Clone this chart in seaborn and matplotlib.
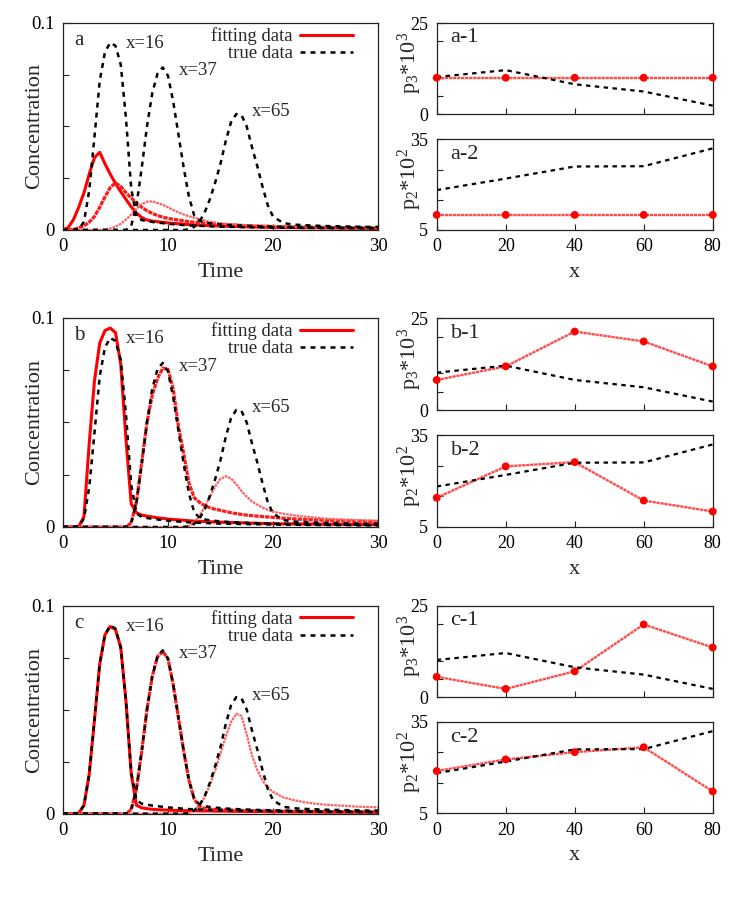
import matplotlib
matplotlib.use("Agg")
import numpy as np
import matplotlib.pyplot as plt
import seaborn as sns
from matplotlib.lines import Line2D

# ---- data ----
time = np.array([0, 0.5, 1, 1.5, 2, 2.5, 3, 3.5, 4, 4.5,
                 5, 5.5, 6, 6.5, 7, 7.5, 8, 8.5, 9, 9.5,
                 10, 10.5, 11, 11.5, 12, 12.5, 13, 13.5, 14, 14.5,
                 15, 15.5, 16, 16.5, 17, 17.5, 18, 18.5, 19, 19.5,
                 20, 21, 22, 23, 24, 25, 26, 27, 28, 29, 30])

# true concentration curves (same in all three rows)
true_16 = [0, 0, 0, 0.0003, 0.004, 0.019, 0.045, 0.072, 0.086, 0.0905,
           0.089, 0.080, 0.054, 0.020, 0.0065, 0.0048, 0.0043, 0.0039, 0.0036, 0.0033,
           0.003, 0.0028, 0.0026, 0.0024, 0.0022, 0.0021, 0.002, 0.0019, 0.0018, 0.0017,
           0.0016, 0.0016, 0.0015, 0.0015, 0.0014, 0.0014, 0.0013, 0.0013, 0.0013, 0.0012,
           0.0012, 0.0011, 0.0011, 0.001, 0.001, 0.0009, 0.0009, 0.0009, 0.0008, 0.0008, 0.0008]
true_37 = [0, 0, 0, 0, 0, 0, 0, 0, 0, 0,
           0, 0, 0, 0.002, 0.012, 0.030, 0.050, 0.066, 0.0755, 0.0785,
           0.0745, 0.062, 0.046, 0.030, 0.016, 0.007, 0.0045, 0.0036, 0.0032, 0.0029,
           0.0027, 0.0025, 0.0023, 0.0022, 0.0021, 0.002, 0.0019, 0.0018, 0.0017, 0.0017,
           0.0016, 0.0015, 0.0014, 0.0013, 0.0013, 0.0012, 0.0012, 0.0011, 0.0011, 0.001, 0.001]
true_65 = [0, 0, 0, 0, 0, 0, 0, 0, 0, 0,
           0, 0, 0, 0, 0, 0, 0, 0, 0, 0,
           0, 0, 0, 0, 0.0003, 0.0015, 0.004, 0.0085, 0.015, 0.023,
           0.032, 0.043, 0.052, 0.056, 0.0555, 0.050, 0.040, 0.031, 0.021, 0.012,
           0.0065, 0.0033, 0.0026, 0.0023, 0.0021, 0.0019, 0.0018, 0.0017, 0.0016, 0.0015, 0.0015]

# fitted curves, row a
fit_a_16 = [0, 0.0012, 0.005, 0.011, 0.018, 0.027, 0.035, 0.0375, 0.032, 0.027,
            0.0225, 0.0185, 0.0148, 0.0112, 0.0082, 0.006, 0.0048, 0.0043, 0.004, 0.0037,
            0.0034, 0.0032, 0.003, 0.0028, 0.0026, 0.0024, 0.0023, 0.0022, 0.0021, 0.002,
            0.0019, 0.0018, 0.0017, 0.0017, 0.0016, 0.0015, 0.0015, 0.0014, 0.0014, 0.0013,
            0.0013, 0.0012, 0.0012, 0.0011, 0.0011, 0.001, 0.001, 0.0009, 0.0009, 0.0009, 0.0008]
fit_a_37 = [0, 0, 0.0003, 0.001, 0.002, 0.0038, 0.0065, 0.011, 0.016, 0.0205,
            0.0228, 0.021, 0.018, 0.0155, 0.013, 0.011, 0.0093, 0.008, 0.007, 0.0062,
            0.0056, 0.0052, 0.0048, 0.0044, 0.004, 0.0037, 0.0035, 0.0033, 0.0031, 0.0029,
            0.0028, 0.0026, 0.0025, 0.0024, 0.0022, 0.0021, 0.002, 0.0019, 0.0018, 0.0018,
            0.0017, 0.0016, 0.0015, 0.0014, 0.0013, 0.0013, 0.0012, 0.0011, 0.0011, 0.001, 0.001]
fit_a_65 = [0, 0, 0, 0, 0, 0, 0, 0, 0.0002, 0.0007,
            0.0016, 0.003, 0.005, 0.0075, 0.0102, 0.0125, 0.0137, 0.0138, 0.013, 0.0122,
            0.011, 0.0097, 0.0085, 0.0075, 0.0066, 0.0059, 0.0052, 0.0046, 0.004, 0.0036,
            0.0032, 0.003, 0.0027, 0.0025, 0.0024, 0.0023, 0.0022, 0.0021, 0.002, 0.0019,
            0.0018, 0.0017, 0.0016, 0.0015, 0.0014, 0.0014, 0.0013, 0.0012, 0.0012, 0.0011, 0.0011]

# fitted curves, row b
fit_b_16 = [0, 0, 0, 0.0002, 0.005, 0.040, 0.070, 0.088, 0.094, 0.0952,
            0.093, 0.078, 0.042, 0.011, 0.0068, 0.0057, 0.0052, 0.0048, 0.0044, 0.0041,
            0.0038, 0.0036, 0.0034, 0.0032, 0.003, 0.0028, 0.0027, 0.0026, 0.0025, 0.0024,
            0.0023, 0.0022, 0.0021, 0.0021, 0.002, 0.0019, 0.0018, 0.0018, 0.0017, 0.0017,
            0.0016, 0.0015, 0.0015, 0.0014, 0.0014, 0.0013, 0.0013, 0.0012, 0.0012, 0.0011, 0.0011]
fit_b_37 = [0, 0, 0, 0, 0, 0, 0, 0, 0, 0,
            0, 0, 0, 0.002, 0.012, 0.031, 0.050, 0.063, 0.071, 0.076,
            0.0755, 0.066, 0.048, 0.035, 0.021, 0.014, 0.0118, 0.0102, 0.0092, 0.0085,
            0.008, 0.0074, 0.0068, 0.0064, 0.006, 0.0057, 0.0054, 0.0052, 0.005, 0.0048,
            0.0046, 0.0042, 0.0039, 0.0036, 0.0034, 0.0032, 0.003, 0.0029, 0.0028, 0.0027, 0.0026]
fit_b_65 = [0, 0, 0, 0, 0, 0, 0, 0, 0, 0,
            0, 0, 0, 0, 0, 0, 0, 0, 0, 0,
            0, 0, 0, 0, 0.0005, 0.002, 0.0055, 0.0095, 0.0145, 0.0195,
            0.023, 0.0243, 0.0232, 0.0205, 0.0172, 0.0145, 0.0122, 0.0107, 0.0093, 0.0082,
            0.0073, 0.0063, 0.0056, 0.005, 0.0045, 0.004, 0.0037, 0.0035, 0.0033, 0.0031, 0.003]

# fitted curves, row c
fit_c_16 = [0, 0, 0, 0.0003, 0.004, 0.019, 0.045, 0.072, 0.086, 0.090,
            0.0885, 0.080, 0.054, 0.019, 0.004, 0.0028, 0.0024, 0.0021, 0.0019, 0.0018,
            0.0017, 0.0016, 0.0015, 0.0015, 0.0014, 0.0014, 0.0013, 0.0013, 0.0013, 0.0012,
            0.0012, 0.0012, 0.0011, 0.0011, 0.0011, 0.001, 0.001, 0.001, 0.001, 0.0009,
            0.0009, 0.0009, 0.0008, 0.0008, 0.0008, 0.0007, 0.0007, 0.0007, 0.0007, 0.0006, 0.0006]
fit_c_37 = [0, 0, 0, 0, 0, 0, 0, 0, 0, 0,
            0, 0, 0, 0.002, 0.012, 0.030, 0.050, 0.066, 0.0755, 0.078,
            0.0745, 0.062, 0.046, 0.030, 0.016, 0.007, 0.0035, 0.0025, 0.0022, 0.002,
            0.0019, 0.0018, 0.0017, 0.0016, 0.0015, 0.0015, 0.0014, 0.0014, 0.0013, 0.0013,
            0.0012, 0.0012, 0.0011, 0.0011, 0.001, 0.001, 0.001, 0.0009, 0.0009, 0.0009, 0.0008]
fit_c_65 = [0, 0, 0, 0, 0, 0, 0, 0, 0, 0,
            0, 0, 0, 0, 0, 0, 0, 0, 0, 0,
            0, 0, 0, 0, 0.0003, 0.0015, 0.004, 0.008, 0.014, 0.021,
            0.029, 0.037, 0.044, 0.048, 0.047, 0.038, 0.028, 0.021, 0.016, 0.0125,
            0.0105, 0.0078, 0.0065, 0.0055, 0.0048, 0.0043, 0.004, 0.0037, 0.0034, 0.0032, 0.003]

# parameters along x
x_pos = [0, 20, 40, 60, 80]
true_p3 = [10.2, 12.1, 8.2, 6.2, 2.3]
true_p2 = [18.2, 22.0, 26.0, 26.1, 32.0]
fit_p3 = {"a": [10, 10, 10, 10, 10],
          "b": [8.2, 11.9, 21.4, 18.7, 11.9],
          "c": [5.6, 2.3, 7.1, 19.9, 13.6]}
fit_p2 = {"a": [10, 10, 10, 10, 10],
          "b": [14.5, 24.8, 26.2, 13.6, 10.0],
          "c": [18.9, 22.7, 25.1, 26.7, 12.2]}

curve_labels = ["x=16", "x=37", "x=65"]
fits = {"a": [fit_a_16, fit_a_37, fit_a_65],
        "b": [fit_b_16, fit_b_37, fit_b_65],
        "c": [fit_c_16, fit_c_37, fit_c_65]}
trues = [true_16, true_37, true_65]

# ---- style ----
sns.set_theme(style="ticks")
plt.rcParams["font.family"] = ["Liberation Serif", "DejaVu Serif"]
plt.rcParams["mathtext.fontset"] = "custom"
plt.rcParams["mathtext.rm"] = "Liberation Serif"
plt.rcParams["mathtext.it"] = "Liberation Serif:italic"
plt.rcParams["axes.edgecolor"] = "#222222"
plt.rcParams["axes.linewidth"] = 0.9

black_dash = (0, (2.0, 2.0))
fit_styles = [dict(color="#ff0000", linewidth=2.2, linestyle="-"),
              dict(color="#ff1a1a", linewidth=2.3, linestyle=(0, (1.4, 0.3))),
              dict(color="#ff6060", linewidth=1.6, linestyle=(0, (1.2, 0.4)))]
param_line = dict(color="#ff4d4d", linewidth=1.7, linestyle=(0, (1.4, 0.3)))

fig = plt.figure(figsize=(7.47, 8.97), dpi=100)

left_x, left_w = 0.0843, 0.4217
right_x, right_w = 0.5846, 0.3695
row_left = {"a": (0.7436, 0.2308), "b": (0.4125, 0.2330), "c": (0.0929, 0.2319)}
row_top = {"a": (0.8729, 0.1011), "b": (0.5429, 0.1022), "c": (0.2226, 0.1021)}
row_bot = {"a": (0.7436, 0.1011), "b": (0.4128, 0.1019), "c": (0.0933, 0.1018)}
text_pos = [(6.0, 0.090), (11.0, 0.077), (18.0, 0.057)]


def style_ticks(ax, size):
    ax.tick_params(direction="in", length=4, width=0.8, labelsize=size,
                   colors="#222222", pad=6)
    for lab in ax.get_xticklabels() + ax.get_yticklabels():
        lab.set_color("black")


for key in ["a", "b", "c"]:
    # concentration vs time
    ax = fig.add_axes([left_x, row_left[key][0], left_w, row_left[key][1]])
    for vals, st in zip(fits[key], fit_styles):
        sns.lineplot(x=time, y=vals, ax=ax, legend=False, **st)
    for vals in trues:
        sns.lineplot(x=time, y=vals, ax=ax, color="black", linewidth=1.8,
                     linestyle=black_dash, legend=False)
    ax.set_xlim(0, 30)
    ax.set_ylim(0, 0.1)
    ax.set_xticks([0, 10, 20, 30])
    ax.set_yticks([0, 0.025, 0.05, 0.075, 0.1])
    ax.set_yticklabels(["0", "", "", "", "0.1"])
    style_ticks(ax, 13.5)
    ax.set_xlabel("Time", fontsize=16)
    ax.set_ylabel("Concentration", fontsize=16)
    ax.xaxis.set_label_coords(0.5, -0.16)
    ax.yaxis.set_label_coords(-0.06, 0.5)
    ax.text(0.035, 0.915, key, transform=ax.transAxes, fontsize=15,
            ha="left", va="center")
    for (tx, ty), lab in zip(text_pos, curve_labels):
        ax.text(tx, ty, lab, fontsize=13.5, ha="left", va="center")
    handles = [Line2D([], [], color="#ff0000", linewidth=2.2),
               Line2D([], [], color="black", linewidth=1.8, linestyle=black_dash)]
    ax.legend(handles, ["fitting data", "true data"], loc="upper right",
              bbox_to_anchor=(0.946, 1.019),
              frameon=False, markerfirst=False, fontsize=13.5, handlelength=2.8,
              handletextpad=0.4, labelspacing=0.0, borderaxespad=0.25,
              borderpad=0.2)

    # p3 vs x
    ax1 = fig.add_axes([right_x, row_top[key][0], right_w, row_top[key][1]])
    sns.lineplot(x=x_pos, y=fit_p3[key], ax=ax1, legend=False, **param_line)
    sns.lineplot(x=x_pos, y=true_p3, ax=ax1, color="black", linewidth=1.6,
                 linestyle=black_dash, legend=False)
    sns.scatterplot(x=x_pos, y=fit_p3[key], ax=ax1, color="#ff0000", s=32,
                    edgecolor="none", legend=False, zorder=5, clip_on=False)
    ax1.set_xlim(0, 80)
    ax1.set_ylim(0, 25)
    ax1.set_xticks(x_pos)
    ax1.set_xticklabels([])
    ax1.set_yticks([0, 5, 10, 20, 25])
    ax1.set_yticklabels(["0", "", "", "", "25"])
    style_ticks(ax1, 13)
    ax1.set_ylabel("p$_3$*10$^3$", fontsize=16)
    ax1.yaxis.set_label_coords(-0.045, 0.56)
    ax1.text(0.05, 0.84, key + "-1", transform=ax1.transAxes, fontsize=16,
             ha="left", va="center")

    # p2 vs x
    ax2 = fig.add_axes([right_x, row_bot[key][0], right_w, row_bot[key][1]])
    sns.lineplot(x=x_pos, y=fit_p2[key], ax=ax2, legend=False, **param_line)
    sns.lineplot(x=x_pos, y=true_p2, ax=ax2, color="black", linewidth=1.6,
                 linestyle=black_dash, legend=False)
    sns.scatterplot(x=x_pos, y=fit_p2[key], ax=ax2, color="#ff0000", s=32,
                    edgecolor="none", legend=False, zorder=5, clip_on=False)
    ax2.set_xlim(0, 80)
    ax2.set_ylim(5, 35)
    ax2.set_xticks(x_pos)
    ax2.set_yticks([5, 15, 25, 35])
    ax2.set_yticklabels(["5", "", "", "35"])
    style_ticks(ax2, 13)
    ax2.set_ylabel("p$_2$*10$^2$", fontsize=16)
    ax2.yaxis.set_label_coords(-0.045, 0.56)
    ax2.set_xlabel("x", fontsize=16)
    ax2.xaxis.set_label_coords(0.5, -0.36)
    ax2.text(0.05, 0.83, key + "-2", transform=ax2.transAxes, fontsize=16,
             ha="left", va="center")

fig.savefig("out.png", dpi=100)
plt.close(fig)
